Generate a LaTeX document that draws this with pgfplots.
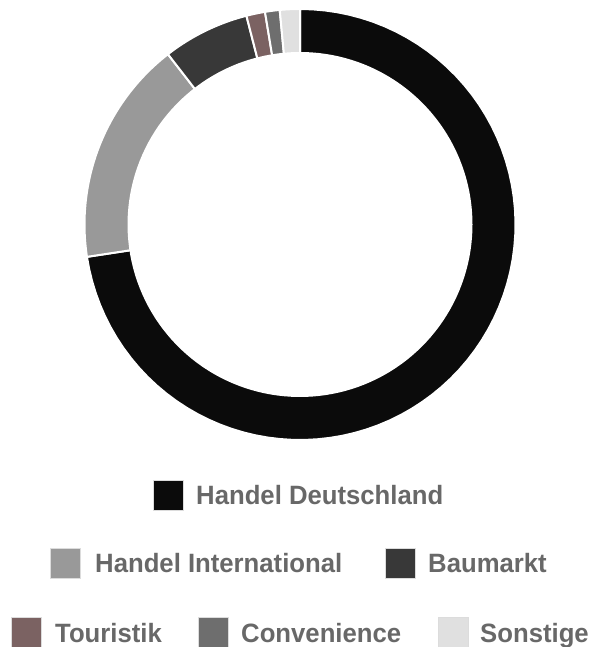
\documentclass[border=0pt]{standalone}
\usepackage{pgfplots}
\pgfplotsset{compat=1.18}
\usepackage{pgfplotstable}
\usepackage{fontspec}
\setmainfont[FakeStretch=0.97]{Liberation Sans}

\definecolor{cHD}{HTML}{0B0B0B}
\definecolor{cHI}{HTML}{999999}
\definecolor{cBM}{HTML}{383838}
\definecolor{cTO}{HTML}{7B6262}
\definecolor{cCO}{HTML}{6E6E6E}
\definecolor{cSO}{HTML}{E0E0E0}
\definecolor{txt}{HTML}{686868}
\definecolor{sqb}{HTML}{DCDCDC}

% shares in percent, clockwise from 12 o'clock
\pgfplotstableread{
segment value
HandelDeutschland 72.6
HandelInternational 16.9
Baumarkt 6.5
Touristik 1.4
Convenience 1.1
Sonstige 1.5
}\sharetable

\newcommand\getval[2]{\pgfplotstablegetelem{#1}{value}\of\sharetable\let#2\pgfplotsretval}
\getval{0}\vA \getval{1}\vB \getval{2}\vC \getval{3}\vD \getval{4}\vE \getval{5}\vF
\pgfmathsetmacro\cA{\vA}
\pgfmathsetmacro\cB{\cA+\vB}
\pgfmathsetmacro\cC{\cB+\vC}
\pgfmathsetmacro\cD{\cC+\vD}
\pgfmathsetmacro\cE{\cD+\vE}
\pgfmathsetmacro\cF{\cE+\vF}

\newcommand\slice[3]{% cum start, cum end, colour
  \pgfmathsetmacro\angS{90-3.6*#2}%
  \pgfmathsetmacro\angE{90-3.6*#1}%
  \edef\doslice{\noexpand\addplot[fill=#3, draw=white, line width=2pt, line join=round, domain=\angS:\angE, samples=80, variable=\noexpand\t]
    ({215.5*cos(\noexpand\t)},{215.5*sin(\noexpand\t)}) -- (axis cs:0,0) -- cycle;}%
  \doslice
}

\newcommand\legitem[5]{% square x, row centre y, text x, colour, label
  \draw[sqb, line width=0.8pt, fill=#4] (#1,#2-15) rectangle (#1+30,#2+15);
  \node[anchor=base west, inner sep=0pt, text=txt,
        font=\fontsize{26.5}{30}\selectfont\bfseries] at (#3,#2-10) {#5};
}

\begin{document}
\begin{tikzpicture}[x=1pt,y=1pt]
\useasboundingbox (0,0) rectangle (590,647);
\begin{axis}[
  at={(0,0)}, anchor=south west,
  x=1pt, y=1pt,
  xmin=-300, xmax=290, ymin=-422.5, ymax=224.5,
  hide axis, clip=false,
]
\slice{0}{\cA}{cHD}
\slice{\cA}{\cB}{cHI}
\slice{\cB}{\cC}{cBM}
\slice{\cC}{\cD}{cTO}
\slice{\cD}{\cE}{cCO}
\slice{\cE}{\cF}{cSO}
\addplot[fill=white, draw=none, domain=0:360, samples=160, variable=\t]
  ({172.5*cos(\t)},{172.5*sin(\t)}) -- cycle;
\end{axis}

% legend (row centres: 647-495, 647-563, 647-632)
\legitem{153}{152}{196}{cHD}{Handel Deutschland}
\legitem{50}{84}{95}{cHI}{Handel International}
\legitem{385}{84}{428}{cBM}{Baumarkt}
\legitem{11}{15}{55}{cTO}{Touristik}
\legitem{198}{15}{241}{cCO}{Convenience}
\legitem{438}{15}{480}{cSO}{Sonstige}
\end{tikzpicture}
\end{document}
